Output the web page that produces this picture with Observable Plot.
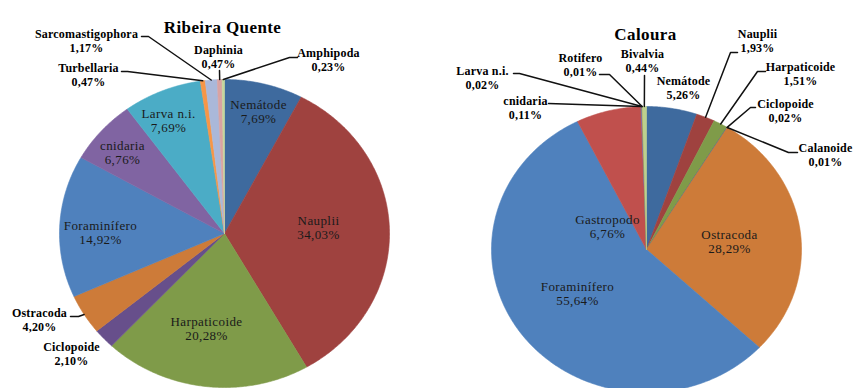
<!DOCTYPE html>
<html>
<head>
<meta charset="utf-8">
<script src="https://cdn.jsdelivr.net/npm/d3@7"></script>
<script src="https://cdn.jsdelivr.net/npm/@observablehq/plot@0.6"></script>
<style>
  html, body { margin: 0; padding: 0; background: #fff; }
  #chart { width: 853px; height: 388px; }
  #chart svg text { font-family: "Liberation Serif", "Times New Roman", serif; letter-spacing: 0.4px; }
  #chart svg g.outside text { letter-spacing: 0.2px; }
</style>
</head>
<body>
<div id="chart"></div>
<script>
// Relative abundance (%) of zooplankton taxa at two sites
const siteTitles = ["Ribeira Quente", "Caloura"];

const ribeiraTaxa = ["Nemátode", "Nauplii", "Harpaticoide", "Ciclopoide", "Ostracoda", "Foraminífero",
  "cnidaria", "Larva n.i.", "Turbellaria", "Sarcomastigophora", "Daphinia", "Amphipoda"];
const ribeiraPct = [7.69, 34.03, 20.28, 2.10, 4.20, 14.92, 6.76, 7.69, 0.47, 1.17, 0.47, 0.23];

const calouraTaxa = ["Nemátode", "Nauplii", "Harpaticoide", "Ciclopoide", "Calanoide", "Ostracoda",
  "Foraminífero", "Gastropodo", "cnidaria", "Larva n.i.", "Rotifero", "Bivalvia"];
const calouraPct = [5.26, 1.93, 1.51, 0.02, 0.01, 28.29, 55.64, 6.76, 0.11, 0.02, 0.01, 0.44];

// One colour per taxon, shared by both pies
const taxonColors = {
  "Nemátode": "#3E6A9E",
  "Nauplii": "#9F423F",
  "Harpaticoide": "#7F9B49",
  "Ciclopoide": "#674F8B",
  "Ostracoda": "#CD7B39",
  "Foraminífero": "#4F81BD",
  "cnidaria": "#8064A2",
  "Larva n.i.": "#4BACC6",
  "Turbellaria": "#F79646",
  "Sarcomastigophora": "#AAB8D9",
  "Daphinia": "#D9A3A2",
  "Amphipoda": "#C4D79D",
  "Calanoide": "#3C8FA6",
  "Gastropodo": "#C0504D",
  "Rotifero": "#B9620F",
  "Bivalvia": "#BCD08E"
};

const serif = "Liberation Serif, Times New Roman, serif";

// Pie frames (centre and radii in px) and label placement
const pieFrames = [
  {cx: 224, cy: 233, rx: 165, ry: 154, title: [222, 27]},
  {cx: 646, cy: 249, rx: 155, ry: 143, title: [645, 34]}
];
const labelSpots = [
  {
    "Nemátode": {at: [258, 111]},
    "Nauplii": {at: [318, 227]},
    "Harpaticoide": {at: [206, 328]},
    "Ciclopoide": {at: [71, 354], outside: true},
    "Ostracoda": {at: [39, 320], outside: true, leader: [[70, 316], [78, 316]]},
    "Foraminífero": {at: [100, 232]},
    "cnidaria": {at: [122, 152]},
    "Larva n.i.": {at: [168, 120]},
    "Turbellaria": {at: [88, 74.5], outside: true, leader: [[121, 71], [127, 71]]},
    "Sarcomastigophora": {at: [86, 40.5], outside: true, leader: [[141, 36], [148, 36]]},
    "Daphinia": {at: [218, 56.5], outside: true, leader: [[219, 70]]},
    "Amphipoda": {at: [328, 60], outside: true, leader: [[297, 57], [289, 57]]}
  },
  {
    "Nemátode": {at: [683, 87.5], outside: true},
    "Nauplii": {at: [757, 41], outside: true, leader: [[737, 52], [730, 52]]},
    "Harpaticoide": {at: [800, 74], outside: true, leader: [[765, 71], [757, 71]]},
    "Ciclopoide": {at: [785, 110.5], outside: true, leader: [[755, 107], [750, 107]]},
    "Calanoide": {at: [825, 155], outside: true, leader: [[797, 152], [788, 152]]},
    "Ostracoda": {at: [729, 241]},
    "Foraminífero": {at: [577, 293]},
    "Gastropodo": {at: [607, 226]},
    "cnidaria": {at: [525, 107.5], outside: true, leader: [[548, 103]]},
    "Larva n.i.": {at: [482, 77.5], outside: true, leader: [[513, 73], [519, 73]]},
    "Rotifero": {at: [580, 64.5], outside: true, leader: [[599, 74], [609, 74]]},
    "Bivalvia": {at: [642, 61], outside: true, leader: [[644, 75]]}
  }
];

const sites = [
  {name: siteTitles[0], taxa: ribeiraTaxa, pct: ribeiraPct},
  {name: siteTitles[1], taxa: calouraTaxa, pct: calouraPct}
];

const fmtPct = v => v.toFixed(2).replace(".", ",") + "%";

const slicePts = [];
const leaderPts = [];
const insideLabels = [];
const outsideLabels = [];
const titles = [];

sites.forEach((site, i) => {
  const f = pieFrames[i];
  titles.push({text: site.name, x: f.title[0], y: f.title[1]});
  const rows = site.taxa.map((taxon, j) => ({taxon, pct: site.pct[j]}));
  // clockwise from twelve o'clock, in data order
  const arcs = d3.pie().sort(null).value(d => d.pct)(rows);
  arcs.forEach(a => {
    const key = site.name + "|" + a.data.taxon;
    const span = a.endAngle - a.startAngle;
    const n = Math.max(2, Math.ceil(span / (Math.PI / 360)));
    slicePts.push({key, taxon: a.data.taxon, x: f.cx, y: f.cy});
    for (let k = 0; k <= n; k++) {
      const t = a.startAngle + span * k / n;
      slicePts.push({key, taxon: a.data.taxon, x: f.cx + f.rx * Math.sin(t), y: f.cy - f.ry * Math.cos(t)});
    }
    slicePts.push({key, taxon: a.data.taxon, x: f.cx, y: f.cy});

    const spot = labelSpots[i][a.data.taxon];
    const lab = {name: a.data.taxon, value: fmtPct(a.data.pct), x: spot.at[0], y: spot.at[1]};
    (spot.outside ? outsideLabels : insideLabels).push(lab);
    if (spot.leader) {
      const mid = (a.startAngle + a.endAngle) / 2;
      spot.leader.forEach(p => leaderPts.push({key, x: p[0], y: p[1]}));
      leaderPts.push({key, x: f.cx + f.rx * Math.sin(mid), y: f.cy - f.ry * Math.cos(mid)});
    }
  });
});

const allTaxa = Object.keys(taxonColors);

const chart = Plot.plot({
  width: 853,
  height: 388,
  margin: 0,
  x: {domain: [0, 853], range: [0, 853], axis: null},
  y: {domain: [0, 388], range: [0, 388], axis: null},
  color: {domain: allTaxa, range: allTaxa.map(t => taxonColors[t])},
  style: {fontFamily: serif, background: "#fff", color: "#000"},
  marks: [
    Plot.line(slicePts, {x: "x", y: "y", z: "key", fill: "taxon", stroke: "taxon", strokeWidth: 0.6, curve: "linear"}),
    Plot.line(leaderPts, {x: "x", y: "y", z: "key", stroke: "#111", strokeWidth: 1.5, curve: "linear"}),
    Plot.text(insideLabels, {x: "x", y: "y", text: "name", dy: -7, fontSize: 13, fontFamily: serif, fill: "#1a1a1a"}),
    Plot.text(insideLabels, {x: "x", y: "y", text: "value", dy: 7, fontSize: 13, fontFamily: serif, fill: "#1a1a1a"}),
    Plot.text(outsideLabels, {x: "x", y: "y", text: "name", dy: -7, fontSize: 12, fontWeight: "bold", fontFamily: serif, fill: "#000", className: "outside"}),
    Plot.text(outsideLabels, {x: "x", y: "y", text: "value", dy: 7, fontSize: 12, fontWeight: "bold", fontFamily: serif, fill: "#000", className: "outside"}),
    Plot.text(titles, {x: "x", y: "y", text: "text", fontSize: 17, fontWeight: "bold", fontFamily: serif, fill: "#000"})
  ]
});

document.getElementById("chart").appendChild(chart);
</script>
</body>
</html>
